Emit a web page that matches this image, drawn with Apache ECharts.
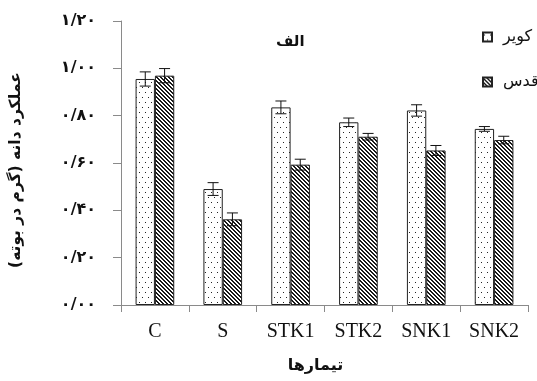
<!DOCTYPE html>
<html>
<head>
<meta charset="utf-8">
<script src="https://cdn.jsdelivr.net/npm/echarts@6/dist/echarts.min.js"></script>
<style>html,body{margin:0;padding:0;background:#fff}#c{width:537px;height:381px}</style>
</head>
<body>
<div id="c"></div>
<script>
var categories = ['C', 'S', 'STK1', 'STK2', 'SNK1', 'SNK2'];
var kavir = [0.955, 0.490, 0.835, 0.772, 0.822, 0.744];
var ghods = [0.969, 0.362, 0.593, 0.711, 0.653, 0.697];
var kavirErr = [0.030, 0.027, 0.027, 0.018, 0.024, 0.010];
var ghodsErr = [0.030, 0.027, 0.023, 0.014, 0.021, 0.016];
var yTicks = [0, 0.2, 0.4, 0.6, 0.8, 1.0, 1.2];
var yTickLabels = ['۰/۰۰', '۰/۲۰', '۰/۴۰', '۰/۶۰', '۰/۸۰', '۱/۰۰', '۱/۲۰'];
var seriesNames = ['کویر', 'قدس'];

function dotPattern() {
  var c = document.createElement('canvas');
  c.width = 6; c.height = 10;
  var g = c.getContext('2d');
  g.fillStyle = '#fff'; g.fillRect(0, 0, 6, 10);
  g.fillStyle = '#222';
  g.fillRect(1, 2, 1, 1);
  g.fillRect(4, 7, 1, 1);
  return c;
}
function hatchPattern() {
  var c = document.createElement('canvas');
  c.width = 4; c.height = 4;
  var g = c.getContext('2d');
  g.fillStyle = '#fff'; g.fillRect(0, 0, 4, 4);
  g.fillStyle = '#1a1a1a';
  for (var i = 0; i < 4; i++) {
    g.fillRect(i, i, 1, 1);
    g.fillRect(i, (i + 1) % 4, 1, 1);
  }
  return c;
}

var GAP = 0.43;
function errSeries(vals, errs, side) {
  return {
    type: 'custom',
    z: 10,
    silent: true,
    data: vals.map(function (v, i) { return [i, v, errs[i]]; }),
    renderItem: function (params, api) {
      var idx = api.value(0), v = api.value(1), e = api.value(2);
      var band = api.size([1, 0])[0];
      var bw = band * (1 - GAP) / 2;
      var cx = api.coord([idx, v])[0] + side * bw / 2;
      var yTop = api.coord([idx, v + e])[1];
      var yBot = api.coord([idx, v - e])[1];
      var hw = 5.5;
      var st = { stroke: '#111', lineWidth: 1 };
      return {
        type: 'group',
        children: [
          { type: 'line', shape: { x1: cx, y1: yTop, x2: cx, y2: yBot }, style: st },
          { type: 'line', shape: { x1: cx - hw, y1: yTop, x2: cx + hw, y2: yTop }, style: st },
          { type: 'line', shape: { x1: cx - hw, y1: yBot, x2: cx + hw, y2: yBot }, style: st }
        ]
      };
    }
  };
}

var chart = echarts.init(document.getElementById('c'), null, { renderer: 'canvas' });
var persianFont = 'DejaVu Sans';
chart.setOption({
  animation: false,
  backgroundColor: '#fff',
  title: {
    text: 'الف',
    left: 276, top: 35, padding: 0,
    textStyle: { fontFamily: persianFont, fontWeight: 'bold', fontSize: 15, color: '#111' }
  },
  legend: {
    data: seriesNames,
    orient: 'vertical',
    left: 482, top: 29, padding: 0,
    itemWidth: 9, itemHeight: 9,
    itemGap: 29,
    icon: 'rect',
    textStyle: { fontFamily: persianFont, fontSize: 16, color: '#111', padding: [12, 0, 0, 6] }
  },
  grid: { left: 120, right: 9, top: 21, bottom: 76 },
  xAxis: {
    type: 'category',
    data: categories,
    name: 'تیمارها',
    nameLocation: 'middle',
    nameGap: 53,
    nameTextStyle: { fontFamily: persianFont, fontWeight: 'bold', fontSize: 16, color: '#111', padding: [0, 18, 0, 0] },
    axisLine: { lineStyle: { color: '#8a8a8a', width: 1 } },
    axisTick: { show: true, length: 7, lineStyle: { color: '#8a8a8a' } },
    axisLabel: { fontFamily: 'Liberation Serif', fontSize: 20, color: '#111', margin: 17 }
  },
  yAxis: {
    type: 'value',
    min: 0, max: 1.2, interval: 0.2,
    name: 'عملکرد دانه (گرم در بوته)',
    nameLocation: 'middle',
    nameRotate: 90,
    nameGap: 97,
    nameTextStyle: { fontFamily: persianFont, fontWeight: 'bold', fontSize: 15.5, color: '#111', padding: [0, 14, 0, 0] },
    splitLine: { show: false },
    axisLine: { show: true, lineStyle: { color: '#8a8a8a', width: 1 } },
    axisTick: { show: true, length: 8, lineStyle: { color: '#8a8a8a' } },
    axisLabel: {
      fontFamily: persianFont, fontWeight: 'bold', fontSize: 16, color: '#111', margin: 25,
      formatter: function (v) {
        for (var i = 0; i < yTicks.length; i++) if (Math.abs(yTicks[i] - v) < 1e-6) return yTickLabels[i];
        return '';
      }
    }
  },
  series: [
    {
      name: seriesNames[0], type: 'bar', data: kavir,
      barGap: '0%', barCategoryGap: (GAP * 100) + '%',
      itemStyle: { color: { image: dotPattern(), repeat: 'repeat' }, borderColor: '#222', borderWidth: 1 }
    },
    {
      name: seriesNames[1], type: 'bar', data: ghods,
      barGap: '0%', barCategoryGap: (GAP * 100) + '%',
      itemStyle: { color: { image: hatchPattern(), repeat: 'repeat' }, borderColor: '#222', borderWidth: 1 }
    },
    errSeries(kavir, kavirErr, -1),
    errSeries(ghods, ghodsErr, 1)
  ]
});
</script>
</body>
</html>
